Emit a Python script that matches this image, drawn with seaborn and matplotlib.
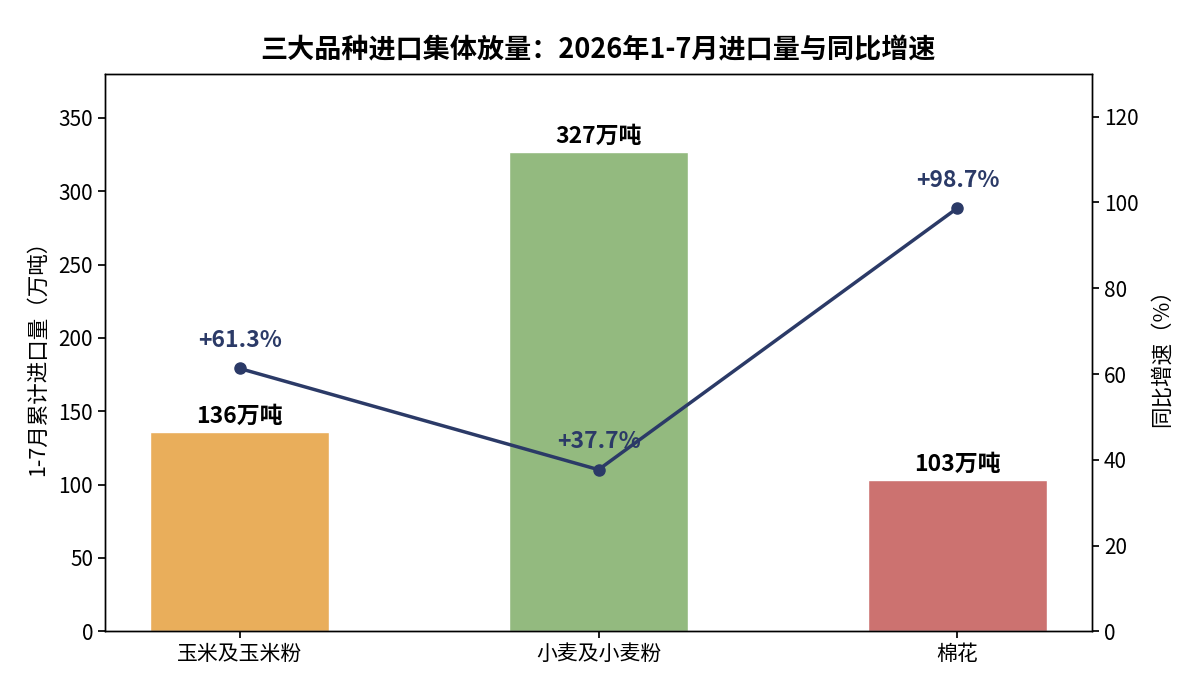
import pandas as pd
import matplotlib
matplotlib.use("Agg")
import matplotlib.pyplot as plt
import seaborn as sns

# 数据
categories = ["玉米及玉米粉", "小麦及小麦粉", "棉花"]
volumes = [136, 327, 103]
growth = [61.3, 37.7, 98.7]
bar_colors = ["#E9AE5B", "#93BA7F", "#CC7270"]
line_color = "#2B3A67"

sns.set_theme(style="ticks")
plt.rcParams["font.family"] = ["Noto Sans CJK SC", "DejaVu Sans"]
plt.rcParams["axes.unicode_minus"] = False
plt.rcParams["text.color"] = "black"
plt.rcParams["axes.labelcolor"] = "black"

df = pd.DataFrame({"品种": categories, "进口量": volumes, "增速": growth})

fig, ax = plt.subplots(figsize=(12, 6.9), dpi=100)

sns.barplot(
    data=df,
    x="品种",
    y="进口量",
    hue="品种",
    palette=bar_colors,
    width=0.5,
    saturation=1,
    legend=False,
    ax=ax
)

ax.set_xlim(-0.375, 2.375)
ax.set_ylim(0, 380)
ax.set_xlabel("")
ax.set_ylabel("1-7月累计进口量（万吨）", fontsize=15.5, labelpad=7)
ax.tick_params(axis="both", labelsize=15, colors="black", length=5)

for i, v in enumerate(volumes):
    ax.annotate(
        f"{v}万吨",
        (i, v),
        xytext=(0, 3),
        textcoords="offset points",
        ha="center",
        va="bottom",
        fontsize=16.5,
        fontweight="bold",
        color="black"
    )

ax2 = ax.twinx()
ax2.plot(
    range(len(categories)),
    growth,
    color=line_color,
    linewidth=2.5,
    marker="o",
    markersize=8
)
ax2.set_ylim(0, 130)
ax2.set_ylabel("同比增速（%）", fontsize=15.5, labelpad=9)
ax2.tick_params(axis="y", labelsize=15, colors="black", length=5)

for i, g in enumerate(growth):
    ax2.annotate(
        f"+{g}%",
        (i, g),
        xytext=(0, 20),
        textcoords="offset points",
        ha="center",
        va="center",
        fontsize=16.5,
        fontweight="bold",
        color=line_color
    )

for a in (ax, ax2):
    for s in a.spines.values():
        s.set_color("black")
        s.set_linewidth(1.0)

ax.set_title(
    "三大品种进口集体放量：2026年1-7月进口量与同比增速",
    fontsize=19.5,
    fontweight="bold",
    color="black",
    pad=11
)

fig.subplots_adjust(left=0.0875, right=0.91, top=0.893, bottom=0.085)

fig.savefig("out.png", dpi=100)
plt.close(fig)
